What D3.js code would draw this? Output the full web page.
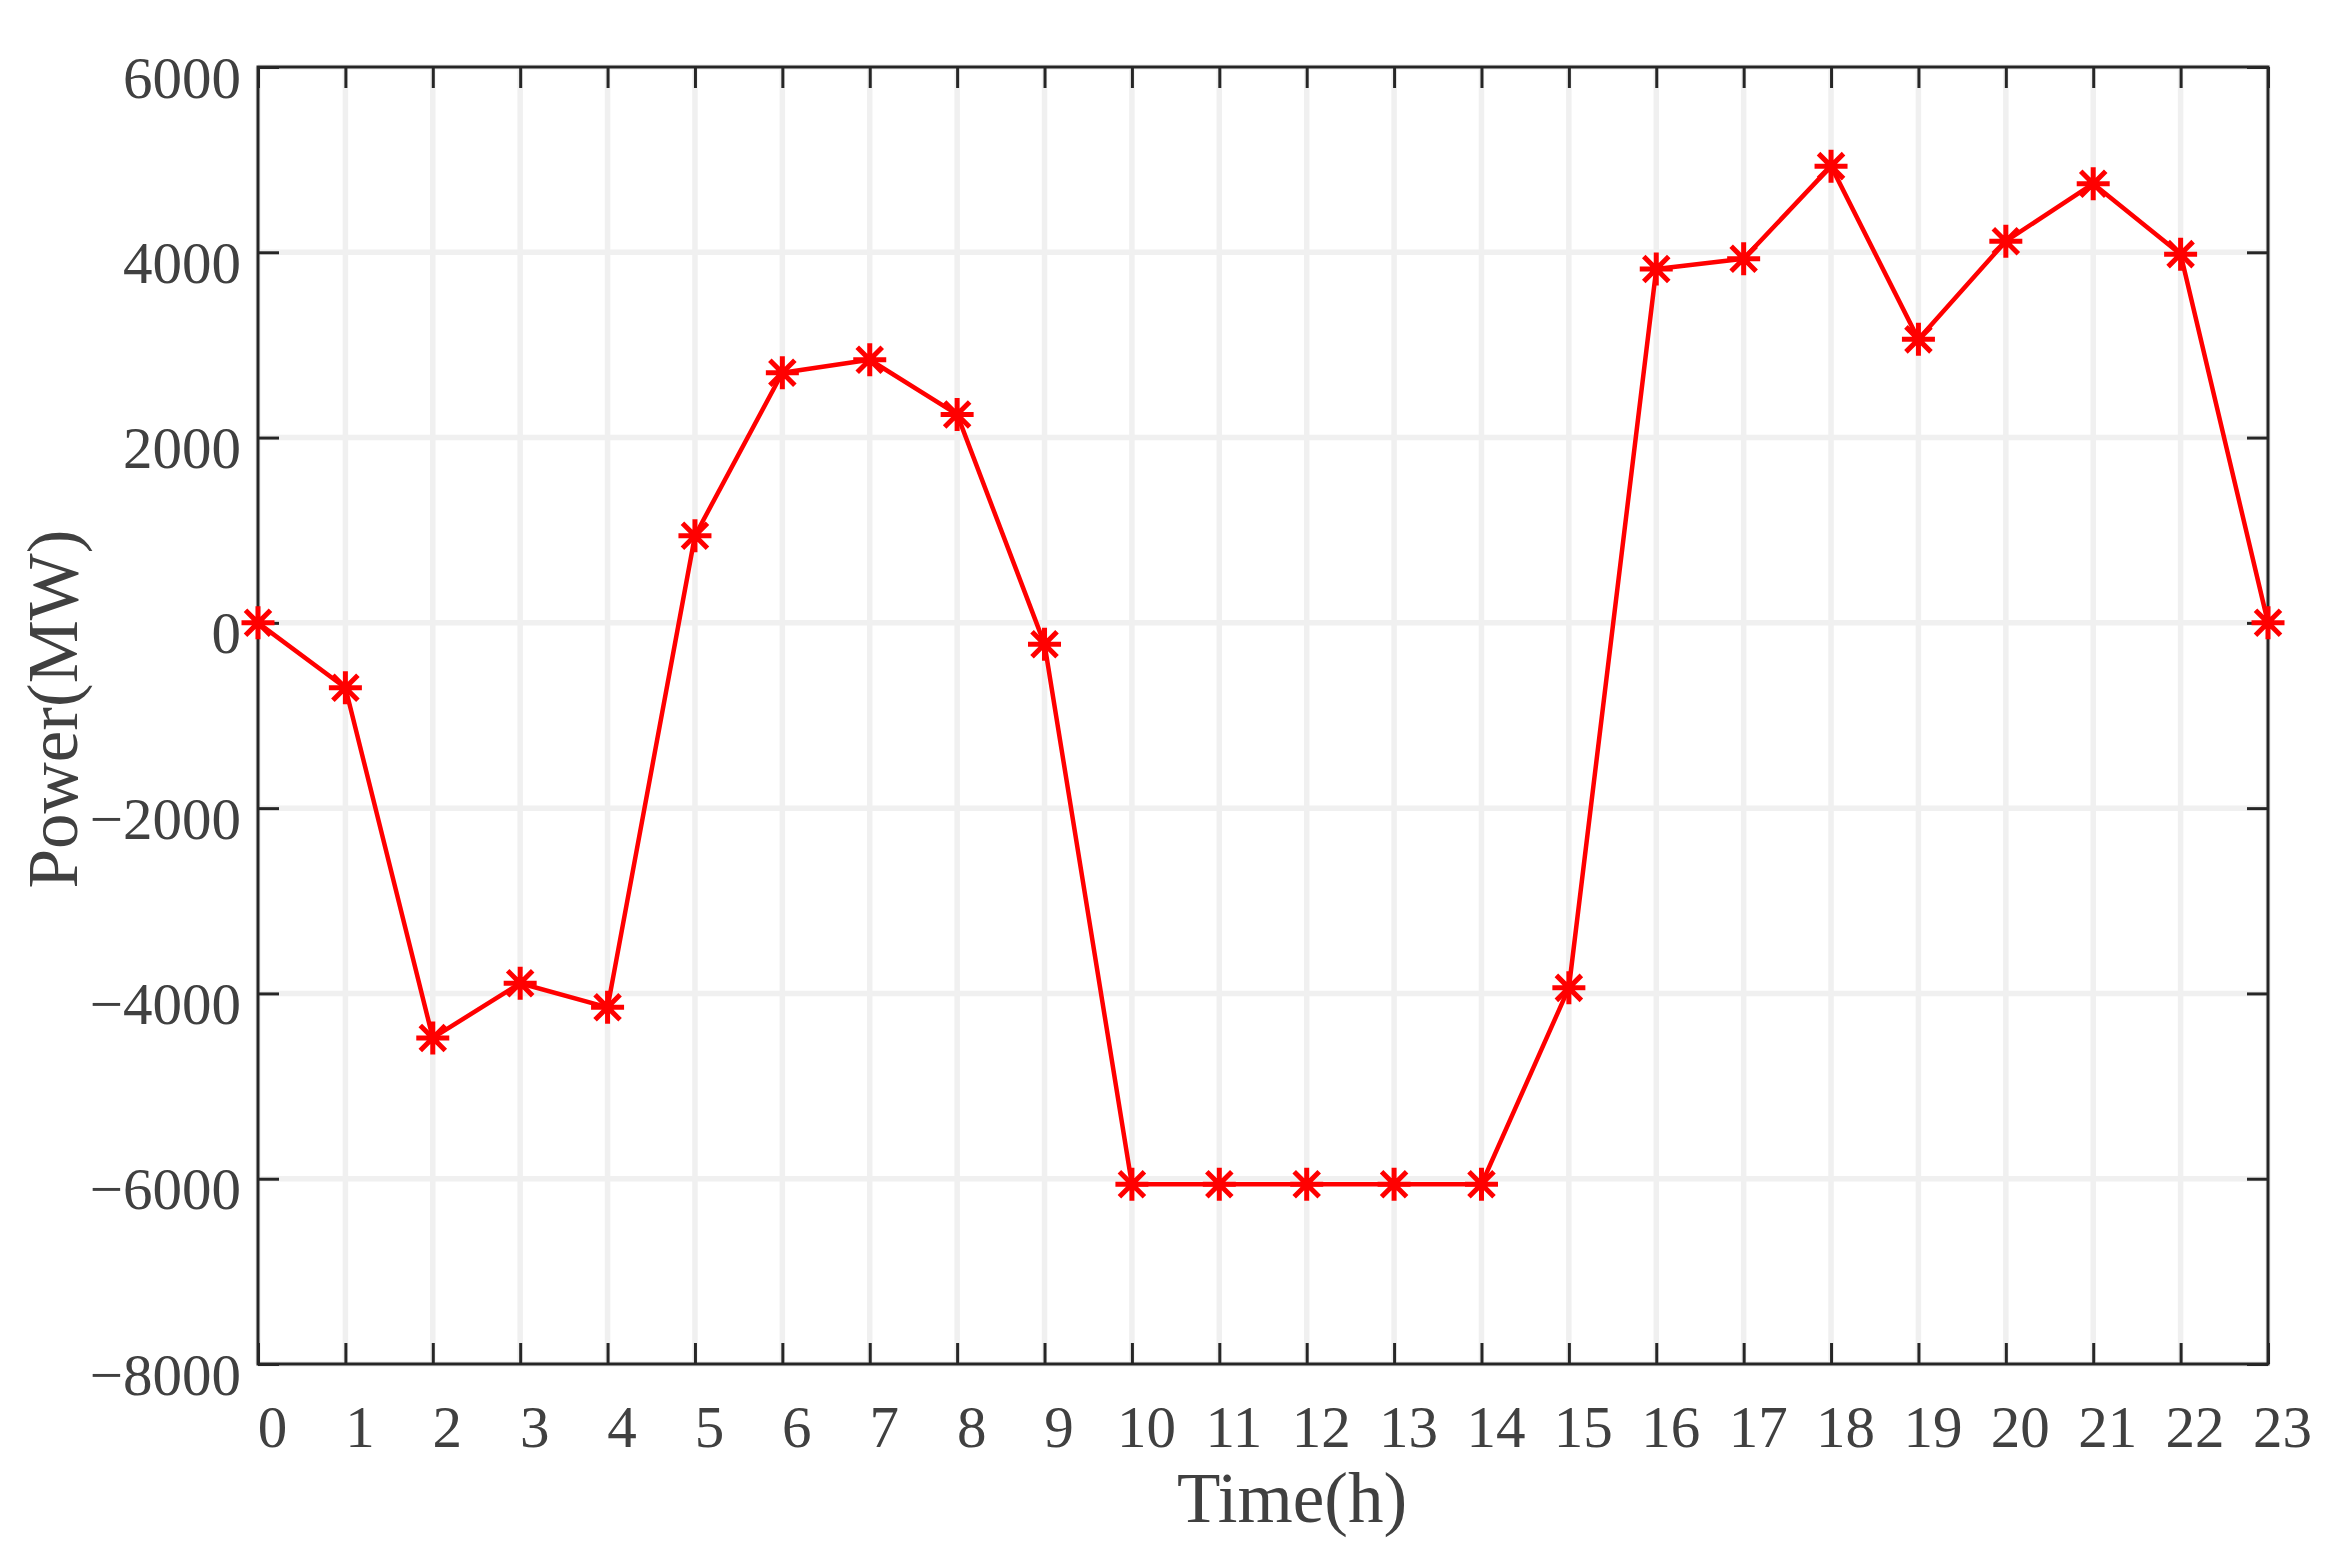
<!DOCTYPE html>
<html>
<head>
<meta charset="utf-8">
<script src="https://cdn.jsdelivr.net/npm/d3@7"></script>
<style>
  html, body { margin: 0; padding: 0; background: #ffffff; }
  svg { display: block; }
  text { font-family: "Liberation Serif", "DejaVu Serif", serif; fill: #404040; }
</style>
</head>
<body>
<svg id="chart" width="2339" height="1557"></svg>
<script>
// ---- data ----
const hours = [0,1,2,3,4,5,6,7,8,9,10,11,12,13,14,15,16,17,18,19,20,21,22,23];
const power = [0,-700,-4480,-3890,-4150,940,2700,2840,2250,-230,-6060,-6060,-6060,-6060,-6060,-3940,3820,3930,4930,3060,4120,4740,3980,0];
const yTicks = [-8000,-6000,-4000,-2000,0,2000,4000,6000];
const xLabel = "Time(h)";
const yLabel = "Power(MW)";

// ---- layout ----
const L = 258, R = 2268, T = 67, B = 1364;
const svg = d3.select("#chart");
const x = d3.scaleLinear().domain([0, 23]).range([L, R]);
const y = d3.scaleLinear().domain([-8000, 6000]).range([B, T]);

// grid
const grid = svg.append("g").attr("stroke", "#f0f0f0").attr("stroke-width", 5.5);
grid.selectAll("line.gx").data(hours).join("line")
  .attr("x1", d => x(d)).attr("x2", d => x(d)).attr("y1", T).attr("y2", B);
grid.selectAll("line.gy").data(yTicks).join("line")
  .attr("x1", L).attr("x2", R).attr("y1", d => y(d)).attr("y2", d => y(d));

// axes
const axColor = "#262626", axW = 3, tickLen = 21;
function styleAxis(g) {
  g.select(".domain").remove();
  g.selectAll(".tick line").attr("stroke", axColor).attr("stroke-width", axW);
}
const fmt = d3.format("d");

const gb = svg.append("g").attr("transform", `translate(0,${B})`)
  .call(d3.axisBottom(x).tickValues(hours).tickSizeInner(-tickLen).tickSizeOuter(0).tickFormat(fmt));
styleAxis(gb);
gb.selectAll(".tick text").attr("y", 83).attr("dy", null).attr("x", 14)
  .attr("font-size", 59).style("fill", "#404040").attr("font-family", "Liberation Serif");

const gt = svg.append("g").attr("transform", `translate(0,${T})`)
  .call(d3.axisTop(x).tickValues(hours).tickSizeInner(-tickLen).tickSizeOuter(0).tickFormat(""));
styleAxis(gt);

const gl = svg.append("g").attr("transform", `translate(${L},0)`)
  .call(d3.axisLeft(y).tickValues(yTicks).tickSizeInner(-tickLen).tickSizeOuter(0).tickFormat(d3.format("d")));
styleAxis(gl);
gl.selectAll(".tick text").attr("x", -17).attr("dy", null).attr("y", 30)
  .attr("font-size", 59).style("fill", "#404040").attr("font-family", "Liberation Serif");

const gr = svg.append("g").attr("transform", `translate(${R},0)`)
  .call(d3.axisRight(y).tickValues(yTicks).tickSizeInner(-tickLen).tickSizeOuter(0).tickFormat(""));
styleAxis(gr);

// box
svg.append("rect").attr("x", L).attr("y", T).attr("width", R - L).attr("height", B - T)
  .attr("fill", "none").attr("stroke", axColor).attr("stroke-width", axW);

// axis labels
svg.append("text").attr("x", 1292).attr("y", 1522).attr("text-anchor", "middle")
  .attr("font-size", 71).text(xLabel);
svg.append("text").attr("transform", "translate(77,709) rotate(-90)").attr("text-anchor", "middle")
  .attr("font-size", 71).text(yLabel);

// data line
const line = d3.line().x((d, i) => x(hours[i])).y(d => y(d));
svg.append("path").datum(power).attr("d", line)
  .attr("fill", "none").attr("stroke", "#ff0000").attr("stroke-width", 4.5).attr("stroke-linejoin", "round");

// asterisk markers
const r = 16.5, dg = 12.5;
const star = `M${-r},0L${r},0M0,${-r}L0,${r}M${-dg},${-dg}L${dg},${dg}M${-dg},${dg}L${dg},${-dg}`;
svg.append("g").selectAll("path").data(power).join("path")
  .attr("transform", (d, i) => `translate(${x(hours[i])},${y(d)})`)
  .attr("d", star).attr("fill", "none").attr("stroke", "#ff0000").attr("stroke-width", 5);
</script>
</body>
</html>
